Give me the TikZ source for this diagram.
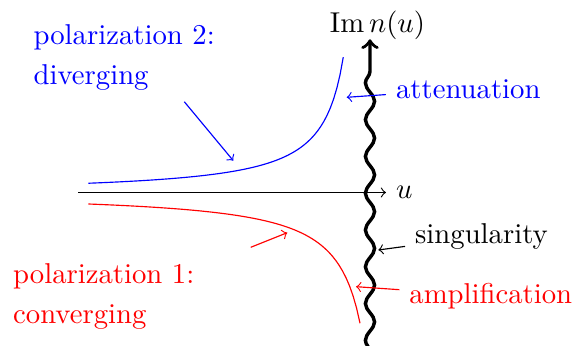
\documentclass[tikz,border=0pt]{standalone}
\usepackage{amsmath}
\usetikzlibrary{positioning, decorations.pathmorphing}

\begin{document}
\begin{tikzpicture}[
      wave/.style={line width=1.2pt, decorate, decoration={snake, amplitude=1.6pt, segment length=4.5mm, post length=2mm}},
      note/.style={align=left, anchor=north west}
    ]
  \useasboundingbox (-4.529,-1.867) rectangle (2.534,2.356);
  \coordinate (axl) at (-3.574,0);
  \coordinate (axr) at (0.196,0);
  \coordinate (wb) at (0,-1.95);
  \coordinate (wt) at (0,1.875);

  \draw[->] (axl) -- (axr);
  \node[right=0pt of axr] (u) {$u$};
  \draw[wave, ->] (wb) -- (wt);
  \node (im) at (0.092,2.047) {$\operatorname{Im} n(u)$};

  \draw[blue] plot[domain=-3.448:-0.327, samples=80] (\x, {0.451/(-0.058-\x)-0.02});
  \draw[red] plot[domain=-3.448:-0.122, samples=80] (\x, {-0.514/(0.199-\x)});

  \node[blue] (att) at (1.203,1.268) {attenuation};
  \coordinate (attp) at (-0.285,1.165);
  \draw[blue, ->] (att) -- (attp);

  \node (sing) at (1.365,-0.534) {singularity};
  \coordinate (singp) at (0.102,-0.704);
  \draw[->] (sing) -- (singp);

  \node[red] (amp) at (1.479,-1.268) {amplification};
  \coordinate (ampp) at (-0.171,-1.153);
  \draw[red, ->] (amp) -- (ampp);

  \node[note, blue] (pol2) at (-4.242,2.18) {polarization 2:\\[2pt] diverging};
  \coordinate (p2a) at (-2.273,1.111);
  \coordinate (p2b) at (-1.673,0.389);
  \draw[blue, ->] (p2a) -- (p2b);

  \node[note, red] (pol1) at (-4.492,-0.741) {polarization 1:\\[2pt] converging};
  \coordinate (p1a) at (-1.460,-0.671);
  \coordinate (p1b) at (-1.012,-0.492);
  \draw[red, ->] (p1a) -- (p1b);
\end{tikzpicture}
\end{document}
